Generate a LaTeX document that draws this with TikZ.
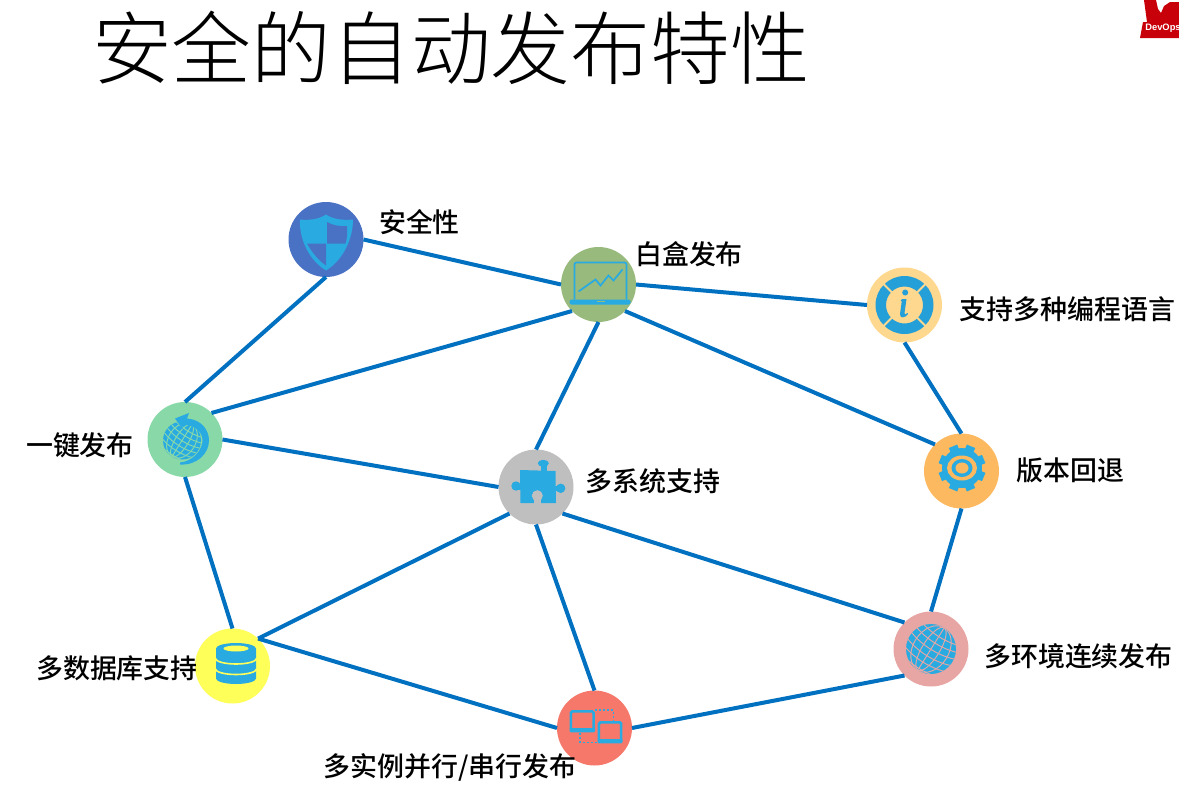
\documentclass[tikz,border=0pt]{standalone}
\usepackage{fontspec}
\setmainfont{Noto Sans CJK SC}[UprightFont=* Medium]
\newfontfamily\titlefont{Noto Sans CJK SC}[UprightFont=* Light]
\newfontfamily\logofont{Liberation Sans}[UprightFont=* Bold]
\definecolor{edgeblue}{HTML}{0070C0}
\definecolor{iconblue}{HTML}{29ABE2}
\definecolor{infoblue}{HTML}{259FD8}
\definecolor{csec}{HTML}{4A72C4}
\definecolor{cbox}{HTML}{98BA7C}
\definecolor{cinfo}{HTML}{FFD88F}
\definecolor{cgear}{HTML}{FDB95F}
\definecolor{cglobe}{HTML}{E7A6A4}
\definecolor{clap}{HTML}{F5786A}
\definecolor{cdb}{HTML}{FFFF5A}
\definecolor{cclick}{HTML}{88D8A8}
\definecolor{cpuz}{HTML}{BFBFBF}
\definecolor{logored}{HTML}{C8000A}
\tikzset{
  hub/.style={circle,minimum size=56.25pt,inner sep=0pt,outer sep=0pt,fill=#1},
  link/.style={edgeblue,line width=3pt},
  lbl/.style={font=\fontsize{20.2pt}{24pt}\selectfont,text=black,inner sep=0pt},
}
% globe icon: radius, line colour
\newcommand{\globeicon}[2]{%
  \fill[iconblue] (0,0) circle (#1);
  \begin{scope}
    \clip (0,0) circle (#1);
    \begin{scope}[rotate=-32,#2,line width=0.7pt]
      \foreach \k in {0.35,0.72}{\draw (0,0) ellipse [x radius=\k*#1,y radius=#1];}
      \draw (0,-#1) -- (0,#1);
      \foreach \k in {-0.75,-0.45,-0.15,0.15,0.45,0.75}{
        \draw (-#1,\k*#1) .. controls (-0.4*#1,\k*#1+0.22*#1) and (0.4*#1,\k*#1+0.22*#1) .. (#1,\k*#1);}
    \end{scope}
  \end{scope}}
\begin{document}
\begin{tikzpicture}[x=0.75pt,y=-0.75pt]
\useasboundingbox (0,0) rectangle (1179,789);
\node[inner sep=0pt,font=\titlefont\fontsize{59.8pt}{66pt}\selectfont] (title) at (451,48) {安全的自动发布特性};

% logo
\begin{scope}
\clip (1130,0) rectangle (1179,40);
\fill[logored] (1140,38) -- (1143,22) -- (1147,22) -- (1144,0) -- (1156,0) -- (1158,9) -- (1161,13) -- (1164,6) -- (1170,2) -- (1179,2) -- (1179,38) -- cycle;
\node[inner sep=0pt,text=white,font=\logofont\fontsize{7pt}{9pt}\selectfont] (logo) at (1163,28) {DevOps};
\end{scope}

% hubs
\node[hub=csec]   (sec)  at (326,239.5) {};
\node[hub=cbox]   (box)  at (598.5,284.5) {};
\node[hub=cinfo]  (info) at (904.5,305) {};
\node[hub=cgear]  (gear) at (961.5,471) {};
\node[hub=cglobe] (glob) at (931,649) {};
\node[hub=clap]   (lap)  at (594.5,728) {};
\node[hub=cdb]    (db)   at (232.5,666) {};
\node[hub=cclick] (clk)  at (185,439.5) {};
\node[hub=cpuz]   (puz)  at (536,487) {};

% connectors
\draw[link] (sec.east) -- (box.west);
\draw[link] (sec.south) -- (clk.north);
\draw[link] (box.east) -- (info.west);
\draw[link] (box.225) -- (clk.45);
\draw[link] (box.south) -- (puz.north);
\draw[link] (box.-45) -- (gear.135);
\draw[link] (info.south) -- (gear.north);
\draw[link] (gear.south) -- (glob.north);
\draw[link] (clk.east) -- (puz.west);
\draw[link] (clk.south) -- (db.north);
\draw[link] (puz.225) -- (db.47);
\draw[link] (puz.south) -- (lap.north);
\draw[link] (puz.-45) -- (glob.135);
\draw[link] (db.47) -- (lap.west);
\draw[link] (lap.east) -- (glob.225);

% shield
\begin{scope}[shift={(sec.center)}]
\fill[iconblue] (0,-25) .. controls (-7,-20) and (-18,-19) .. (-26,-20) .. controls (-27,-2) and (-18,20) .. (0,31) .. controls (18,20) and (27,-2) .. (27,-20) .. controls (18,-19) and (7,-20) .. (0,-25) -- cycle;
\fill[csec] (1,-17.5) .. controls (7,-14) and (14,-13) .. (21,-13.5) .. controls (21.5,-6) and (21,0) .. (19.5,4) -- (1,4) -- cycle;
\fill[csec] (-19,4) -- (0,4) -- (0,26) .. controls (-9,20) and (-15,11) .. (-19,4) -- cycle;
\end{scope}

% laptop
\begin{scope}[shift={(box.center)}]
\draw[iconblue,line width=1.3pt,rounded corners=1.5pt] (-24,15) -- (-24,-22) -- (28,-22) -- (28,15);
\fill[iconblue,rounded corners=1.5pt] (-29,15) rectangle (32,20);
\fill[cbox] (-2,16) rectangle (6,17.5);
\draw[iconblue,line width=1.3pt] (-20,7) -- (-3,-5) -- (2,1) -- (10,-9) -- (15,-4) -- (24,-15);
\end{scope}

% info ring
\begin{scope}[shift={(info.center)}]
\fill[infoblue,even odd rule] (0,0) circle (29) (0,0) circle (18.5);
\foreach \a in {45,135,225,315}{\draw[cinfo,line width=1.5pt] (\a:17) -- (\a:30);}
\fill[infoblue] (0.7,-12.5) circle (3);
\fill[infoblue] (-2.5,-6) -- (2,-6) -- (0,8) .. controls (-0.2,10) and (1,10) .. (3,8) -- (3.5,9) .. controls (1,13) and (-5,14) .. (-4.5,9) -- (-2.7,-4) -- (-4,-4) -- cycle;
\end{scope}

% gear
\begin{scope}[shift={(962,468)}]
\foreach \a in {22.5,67.5,...,360}{\fill[iconblue,rotate=\a] (-4.5,-23.5) rectangle (4.5,0);}
\fill[iconblue] (0,0) circle (20);
\fill[cgear] (0,0) ellipse [x radius=15,y radius=12.5];
\fill[iconblue] (0,0) ellipse [x radius=10.5,y radius=9];
\fill[cgear] (0,0) ellipse [x radius=6.5,y radius=5.5];
\end{scope}

% globe with return arrow
\begin{scope}[shift={(clk.center)}]
\begin{scope}[shift={(-3,1)}]
\globeicon{19}{cclick}
\end{scope}
\fill[iconblue] (2,-21) .. controls (16,-20) and (24,-10) .. (24,1) .. controls (24,14) and (12,26) .. (-5,25) -- (-5,23) .. controls (8,22) and (18,10) .. (17.5,0) .. controls (17,-8) and (9,-14) .. (0,-15) -- (-3,-15) -- (-2,-10) -- (-10,-21) -- (4,-26.5) -- cycle;
\end{scope}

% puzzle
\begin{scope}[shift={(puz.center)}]
\fill[iconblue] (-16,-17) -- (19.5,-16) -- (20,16) -- (-15.5,16) -- cycle;
\fill[iconblue] (4.5,-24) rectangle (10.5,-15);
\fill[iconblue] (7.3,-23.7) ellipse [x radius=5.5,y radius=3.5];
\fill[iconblue] (-20,-1) circle (4.7);
\fill[iconblue] (-20,-3.5) rectangle (-15,2.5);
\fill[iconblue] (24.7,1.3) circle (4.7);
\fill[iconblue] (19,-1.5) rectangle (25,4);
\fill[cpuz] (1.3,8.7) circle (5.5);
\fill[cpuz] (-1.7,9) rectangle (4.5,17);
\end{scope}

% database
\begin{scope}[shift={(db.center)}]
\fill[iconblue] (-16.5,-17.5) -- (-16.5,12.5) arc[start angle=180,end angle=0,x radius=20,y radius=5.5] -- (23.5,-17.5) arc[start angle=0,end angle=-180,x radius=20,y radius=5.5] -- cycle;
\fill[cdb] (3.5,-17.5) ellipse [x radius=12.5,y radius=3];
\draw[cdb,line width=1.2pt] (-17,-7.5) arc[start angle=180,end angle=0,x radius=20.5,y radius=5.5];
\draw[cdb,line width=1.2pt] (-17,3) arc[start angle=180,end angle=0,x radius=20.5,y radius=5.5];
\end{scope}

% two computers
\begin{scope}[shift={(lap.center)}]
\draw[iconblue,line width=1.2pt,dash pattern=on 1.5pt off 1.5pt] (0.5,-18) -- (19,-18) -- (19,-8);
\draw[iconblue,line width=1.2pt,dash pattern=on 1.5pt off 1.5pt] (-14.5,5) -- (-14.5,14.5) -- (3,14.5);
\draw[iconblue,line width=2pt,rounded corners=1pt] (-23.6,1) -- (-23.6,-16.6) -- (-0.9,-16.6) -- (-0.9,1);
\fill[iconblue,rounded corners=0.8pt] (-25,0) rectangle (0.5,4.3);
\draw[iconblue,line width=2pt,rounded corners=1pt] (4.4,12) -- (4.4,-5.6) -- (26.6,-5.6) -- (26.6,12);
\fill[iconblue,rounded corners=0.8pt] (3,11) rectangle (28,15.3);
\end{scope}

% world globe
\begin{scope}[shift={(glob.center)}]
\globeicon{25}{cglobe}
\end{scope}

% labels
\node[lbl] (t1) at (419.5,222) {安全性};
\node[lbl] (t2) at (689,254) {白盒发布};
\node[lbl] (t3) at (1067.5,309) {支持多种编程语言};
\node[lbl] (t4) at (1070.5,470) {版本回退};
\node[lbl] (t5) at (653,481) {多系统支持};
\node[lbl] (t6) at (80,445) {一键发布};
\node[lbl] (t7) at (117,668) {多数据库支持};
\node[lbl] (t8) at (1078.5,656) {多环境连续发布};
\node[lbl] (t9) at (450,767.5) {多实例并行/串行发布};
\end{tikzpicture}
\end{document}
